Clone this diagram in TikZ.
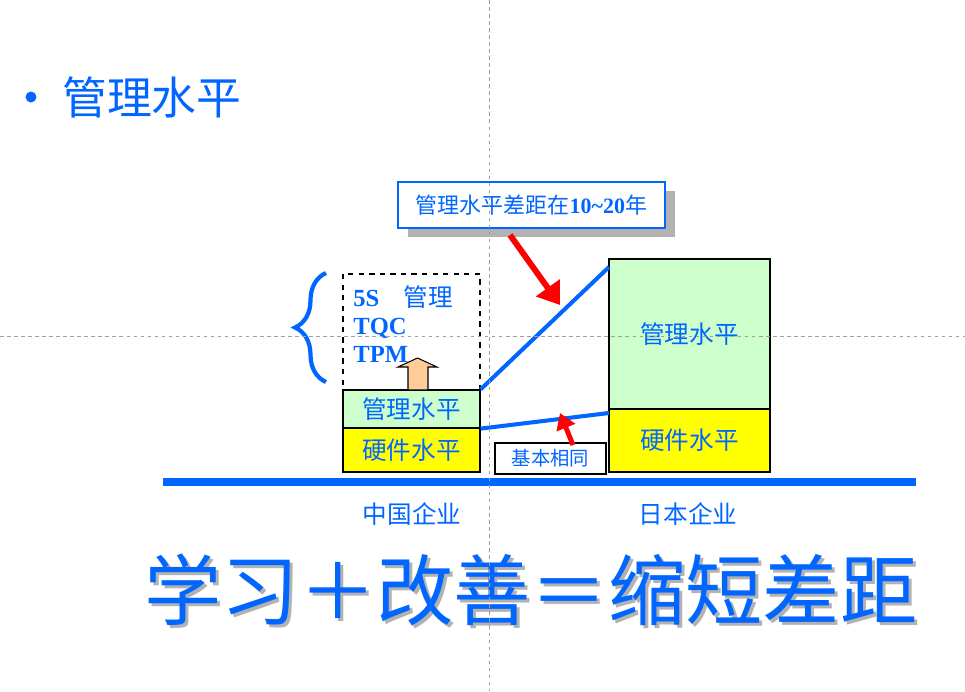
\documentclass[tikz,border=0pt]{standalone}
\usepackage{fontspec}
\setmainfont{Liberation Serif}
\newfontfamily\cjk{Noto Sans CJK SC}
\usetikzlibrary{arrows.meta,shadows,decorations.pathreplacing}
\definecolor{pptblue}{HTML}{0066FF}
\definecolor{mgreen}{HTML}{CCFFCC}
\definecolor{hyellow}{HTML}{FFFF00}
\definecolor{peach}{HTML}{FFCC99}
\definecolor{guide}{HTML}{A0A0A0}

\begin{document}
\begin{tikzpicture}[x=0.02cm, y=-0.02cm]
\tikzstyle{level}=[draw=black, line width=0.7pt, inner sep=0pt, text=pptblue,
  font=\cjk\fontsize{14pt}{16pt}\selectfont];
\tikzstyle{link}=[pptblue, line width=2.3pt];
\tikzstyle{hint}=[red, line width=3.4pt];
\useasboundingbox (0,0) rectangle (965,691);

% title
\path (31,97) node[circle, fill=pptblue, inner sep=0pt, minimum size=0.22cm] (dot) {};
\path (62,97) node[anchor=west, inner sep=0pt, text=pptblue,
  font=\cjk\fontsize{25.5pt}{28pt}\selectfont] (title) {管理水平};

% china
\path (411.5,450) node[level, fill=hyellow, minimum width=2.74cm, minimum height=0.88cm] (cnhw) {硬件水平};
\path (411.5,409) node[level, fill=mgreen, minimum width=2.74cm, minimum height=0.76cm] (cnmg) {管理水平};
\path (411.5,332) node[draw=black, dashed, line width=0.6pt, minimum width=2.74cm, minimum height=2.32cm] (plan) {};
\path (353,324) node[anchor=west, inner sep=0pt, align=left, text=pptblue,
  font=\bfseries\fontsize{14pt}{15.9pt}\selectfont] (tools)
  {5S\quad{\cjk\mdseries 管理}\\TQC\\TPM};
\draw[fill=peach, line width=0.6pt] (408,390) -- (408,367) -- (398,367) -- (417.5,358)
  -- (437,367) -- (428,367) -- (428,390) -- cycle;
\draw[pptblue, line width=2.4pt, decorate, decoration={brace, amplitude=0.62cm}]
  (326,382) -- (326,273);

% japan
\path (689.5,440.5) node[level, fill=hyellow, minimum width=3.22cm, minimum height=1.26cm] (jphw) {硬件水平};
\path (689.5,334) node[level, fill=mgreen, minimum width=3.22cm, minimum height=3cm] (jpmg) {管理水平};

% gap lines
\coordinate (jptop) at (609,267);
\coordinate (jpbot) at (609,413);
\draw[link] (cnmg.north east) -- (jptop);
\draw[link] (cnmg.south east) -- (jpbot);

% notes
\path (531.5,205) node[draw=pptblue, fill=white, line width=0.8pt, minimum width=5.34cm,
  minimum height=0.92cm, inner sep=0pt, text=pptblue,
  drop shadow={shadow xshift=0.2cm, shadow yshift=-0.18cm, fill=black!30, opacity=1},
  font=\fontsize{12.5pt}{14pt}\selectfont] (gap)
  {{\cjk 管理水平差距在}\textbf{10\textasciitilde20}{\cjk 年}};
\path (550.5,458.5) node[draw=black, fill=white, line width=0.7pt, minimum width=2.22cm,
  minimum height=0.62cm, inner sep=0pt, text=pptblue,
  font=\cjk\fontsize{11pt}{12pt}\selectfont] (same) {基本相同};
\coordinate (gaptip) at (560,305);
\coordinate (sametip) at (560,413);
\coordinate (gaptail) at (510,235);
\coordinate (sametail) at (573,445);
\draw[hint, -{Triangle[length=12pt, width=16pt]}] (gaptail) -- (gaptip);
\draw[hint, line width=2.8pt, -{Triangle[length=9pt, width=11pt]}] (sametail) -- (sametip);

% ground
\path (163,482) coordinate (gl) (916,482) coordinate (gr);
\draw[pptblue, line width=4pt] (gl) -- (gr);
\path (412,514) node[text=pptblue, font=\cjk\fontsize{14pt}{16pt}\selectfont] (cn) {中国企业};
\path (688,514) node[text=pptblue, font=\cjk\fontsize{14pt}{16pt}\selectfont] (jp) {日本企业};

% slogan
\path (534,593) node[text=black!30, font=\cjk\fontsize{44pt}{48pt}\selectfont] (sloganshadow) {学习＋改善＝缩短差距};
\path (531,590) node[text=pptblue, font=\cjk\fontsize{44pt}{48pt}\selectfont] (slogan) {学习＋改善＝缩短差距};

% guides
\path (489,0) coordinate (vt) (489,691) coordinate (vb) (0,336) coordinate (hl) (965,336) coordinate (hr);
\draw[guide, line width=0.5pt, dash pattern=on 2pt off 2pt] (vt) -- (vb) (hl) -- (hr);
\end{tikzpicture}
\end{document}
